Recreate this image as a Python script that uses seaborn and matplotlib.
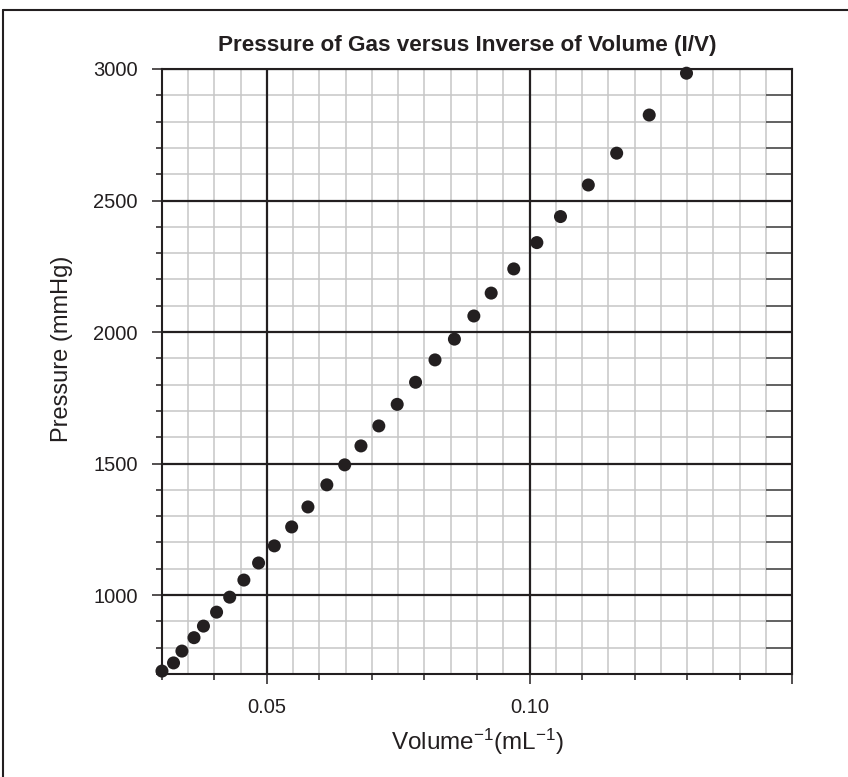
import numpy as np
import pandas as pd
import seaborn as sns
import matplotlib.pyplot as plt
from matplotlib.lines import Line2D

# data
inv_volume = [0.0300, 0.0322, 0.0338, 0.0361, 0.0379, 0.0404, 0.0429, 0.0456,
              0.0484, 0.0514, 0.0547, 0.0578, 0.0614, 0.0648, 0.0679, 0.0713,
              0.0748, 0.0783, 0.0820, 0.0857, 0.0894, 0.0927, 0.0970, 0.1014,
              0.1059, 0.1112, 0.1166, 0.1228, 0.1299]
pressure = [711, 742, 787, 838, 882, 935, 992, 1057, 1122, 1187, 1259, 1335,
            1419, 1495, 1567, 1643, 1725, 1809, 1894, 1973, 2061, 2148, 2240,
            2340, 2439, 2559, 2680, 2825, 2984]

x_major = [0.05, 0.10, 0.15]
x_major_labels = ['0.05', '0.10', '']
y_major = [1000, 1500, 2000, 2500, 3000]
y_major_labels = ['1000', '1500', '2000', '2500', '3000']

df = pd.DataFrame({'inv_volume': inv_volume, 'pressure': pressure})

sns.set_theme(style='white')
plt.rcParams['font.family'] = ['Liberation Sans', 'DejaVu Sans']
plt.rcParams['mathtext.fontset'] = 'custom'
plt.rcParams['mathtext.rm'] = 'Liberation Sans'
plt.rcParams['mathtext.it'] = 'Liberation Sans'

ink = '#231f20'
xlim = (0.03, 0.15)
ylim = (700, 3000)

fig = plt.figure(figsize=(8.48, 7.77), dpi=100)
ax = fig.add_axes([0.191, 0.1326, 0.743, 0.7786])

# graph-paper grid
fine_x = np.arange(0.03, 0.1501, 0.005)
fine_y = np.arange(700, 3001, 100)
ax.vlines(fine_x, 0, 1, transform=ax.get_xaxis_transform(), color='#c6c6c6', lw=1.1, zorder=0)
ax.hlines(fine_y, 0, 1, transform=ax.get_yaxis_transform(), color='#c6c6c6', lw=1.1, zorder=0)
ax.vlines(x_major[:-1], 0, 1, transform=ax.get_xaxis_transform(), color=ink, lw=1.6, zorder=1)
ax.hlines(y_major, 0, 1, transform=ax.get_yaxis_transform(), color=ink, lw=1.6, zorder=1)

sns.scatterplot(data=df, x='inv_volume', y='pressure', color=ink, s=88,
                edgecolor='none', zorder=3, clip_on=False, ax=ax)

ax.set_xlim(*xlim)
ax.set_ylim(*ylim)

ax.set_xticks(x_major)
ax.set_xticklabels(x_major_labels)
ax.set_xticks(np.arange(0.03, 0.1451, 0.01), minor=True)
ax.set_yticks(y_major)
ax.set_yticklabels(y_major_labels)
ax.set_yticks(fine_y, minor=True)

ax.tick_params(axis='both', which='both', direction='out', color=ink, width=1.1,
               labelsize=14.5, labelcolor=ink)
ax.tick_params(axis='x', which='major', bottom=True, top=False, length=7, pad=10)
ax.tick_params(axis='x', which='minor', bottom=True, top=False, length=4)
ax.tick_params(axis='y', which='major', left=True, right=False, length=7.5, pad=10)
ax.tick_params(axis='y', which='minor', left=True, right=False, length=4.3)

# short inward ticks on the right side
sec = ax.secondary_yaxis('right')
sec.set_yticks(fine_y)
sec.tick_params(direction='in', length=19, width=1.1, color='#444444', labelright=False)
sec.spines['right'].set_visible(False)

for sp in ax.spines.values():
    sp.set_color(ink)
    sp.set_linewidth(1.5)
    sp.set_zorder(2)

ax.set_xlabel('Volume$^{-1}$(mL$^{-1}$)', fontsize=17.5, color=ink, labelpad=7)
ax.set_ylabel('Pressure (mmHg)', fontsize=17, color=ink)
ax.yaxis.set_label_coords(-0.141, 0.537)
ax.set_title('Pressure of Gas versus Inverse of Volume (I/V)', fontsize=16.2,
             fontweight='bold', color=ink, pad=13,
             family=['Liberation Sans Narrow', 'Liberation Sans'])
ax.title.set_x(0.484)

# frame edges of the original panel
fig.add_artist(Line2D([0.0035, 0.0035], [0, 0.987], transform=fig.transFigure, color=ink, lw=1.5))
fig.add_artist(Line2D([0.0035, 1], [0.987, 0.987], transform=fig.transFigure, color=ink, lw=1.5))

plt.savefig('out.png', dpi=100)
